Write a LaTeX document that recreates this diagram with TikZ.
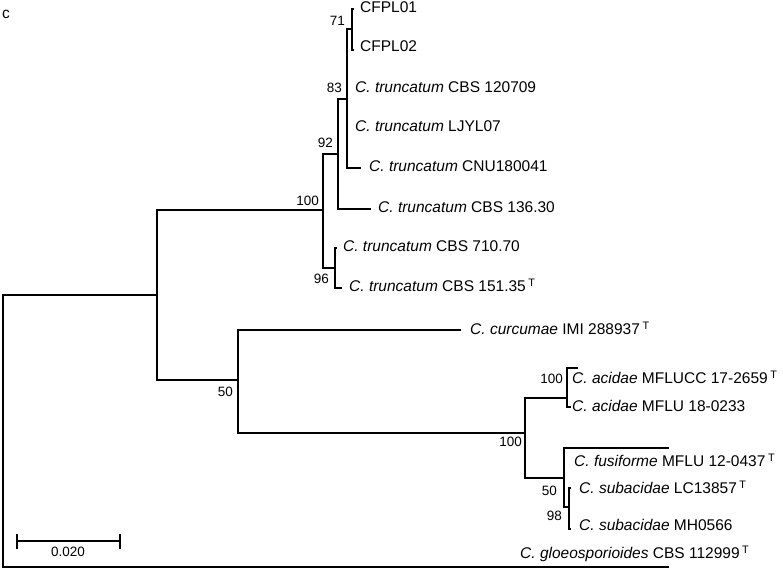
\documentclass[tikz,border=0pt]{standalone}
\usepackage{fontspec}
\setmainfont{Liberation Sans}
\usetikzlibrary{arrows.meta}
\newcommand{\typemark}{\,\textsuperscript{T}}
\newcommand{\ctrunc}{\textit{C. truncatum}}

\begin{document}
\begin{tikzpicture}[x=1pt,y=-1pt,
  branch/.style={draw=black,line width=1.6pt,line cap=rect},
  taxon/.style={font=\fontsize{15.5}{18}\selectfont,anchor=west,
    inner sep=0pt,text height=0.72em,text depth=0pt},
  support/.style={font=\fontsize{13.5}{16}\selectfont,anchor=east,
    inner sep=0pt,text height=0.72em,text depth=0pt},
  scalebar/.style={branch,line cap=butt,{Bar[width=15pt]}-{Bar[width=15pt]}}]
\useasboundingbox (0,0) rectangle (783,570);

\node[font=\fontsize{15.5}{18}\selectfont,anchor=base west,inner sep=0pt] (panel) at (2,18) {c};

% internal nodes
\coordinate (root) at (3,431);
\coordinate (n1) at (157,295);
\coordinate (n100a) at (323,210);
\coordinate (n92) at (338,154);
\coordinate (n83) at (347,99);
\coordinate (n71) at (352,29);
\coordinate (n96) at (335,268);
\coordinate (n50a) at (238,380);
\coordinate (n100b) at (525,433);
\coordinate (n100c) at (567,398);
\coordinate (n50b) at (564,478);
\coordinate (n98) at (569,507);

% tips
\coordinate (t_cfpl01) at (353,9);
\coordinate (t_cfpl02) at (353,50);
\coordinate (t_120709) at (347,89);
\coordinate (t_ljyl07) at (347,128);
\coordinate (t_cnu) at (360,168);
\coordinate (t_13630) at (370,209);
\coordinate (t_71070) at (336,248);
\coordinate (t_15135) at (341,288);
\coordinate (t_curcumae) at (460,330);
\coordinate (t_acidae1) at (577,368);
\coordinate (t_acidae2) at (570,407);
\coordinate (t_fusiforme) at (668,448);
\coordinate (t_subacidae1) at (570,488);
\coordinate (t_subacidae2) at (570,529);
\coordinate (t_gloeo) at (668,567);

\draw[branch] (root) |- (n1);
\draw[branch] (root) |- (t_gloeo);
\draw[branch] (n1) |- (n100a);
\draw[branch] (n1) |- (n50a);
\draw[branch] (n100a) |- (n92);
\draw[branch] (n100a) |- (n96);
\draw[branch] (n92) |- (n83);
\draw[branch] (n92) |- (t_13630);
\draw[branch] (n83) |- (n71);
\draw[branch] (n83) |- (t_120709);
\draw[branch] (n83) |- (t_ljyl07);
\draw[branch] (n83) |- (t_cnu);
\draw[branch] (n71) |- (t_cfpl01);
\draw[branch] (n71) |- (t_cfpl02);
\draw[branch] (n96) |- (t_71070);
\draw[branch] (n96) |- (t_15135);
\draw[branch] (n50a) |- (t_curcumae);
\draw[branch] (n50a) |- (n100b);
\draw[branch] (n100b) |- (n100c);
\draw[branch] (n100b) |- (n50b);
\draw[branch] (n100c) |- (t_acidae1);
\draw[branch] (n100c) |- (t_acidae2);
\draw[branch] (n50b) |- (t_fusiforme);
\draw[branch] (n50b) |- (n98);
\draw[branch] (n98) |- (t_subacidae1);
\draw[branch] (n98) |- (t_subacidae2);

\node[taxon] (cfpl01) at (360,9) {CFPL01};
\node[taxon] (cfpl02) at (360,48) {CFPL02};
\node[taxon] (cbs120709) at (355,89) {\ctrunc{} CBS 120709};
\node[taxon] (ljyl07) at (355,128) {\ctrunc{} LJYL07};
\node[taxon] (cnu180041) at (369,168) {\ctrunc{} CNU180041};
\node[taxon] (cbs13630) at (378,209) {\ctrunc{} CBS 136.30};
\node[taxon] (cbs71070) at (343,248) {\ctrunc{} CBS 710.70};
\node[taxon] (cbs15135) at (349,288) {\ctrunc{} CBS 151.35\typemark};
\node[taxon] (curcumae) at (470,331) {\textit{C. curcumae} IMI 288937\typemark};
\node[taxon] (acidae1) at (572,380) {\textit{C. acidae} MFLUCC 17-2659\typemark};
\node[taxon] (acidae2) at (572,408) {\textit{C. acidae} MFLU 18-0233};
\node[taxon] (fusiforme) at (574,463) {\textit{C. fusiforme} MFLU 12-0437\typemark};
\node[taxon] (subacidae1) at (579,490) {\textit{C. subacidae} LC13857\typemark};
\node[taxon] (subacidae2) at (579,527) {\textit{C. subacidae} MH0566};
\node[taxon] (gloeo) at (520,555) {\textit{C. gloeosporioides} CBS 112999\typemark};

\node[support] (bs71) at (345,22) {71};
\node[support] (bs83) at (342,89) {83};
\node[support] (bs92) at (333,144) {92};
\node[support] (bs100a) at (319,202) {100};
\node[support] (bs96) at (329,280) {96};
\node[support] (bs50a) at (233,393) {50};
\node[support] (bs100b) at (522,443) {100};
\node[support] (bs100c) at (563,380) {100};
\node[support] (bs50b) at (557,492) {50};
\node[support] (bs98) at (562,517) {98};

\coordinate (sb_left) at (16,541);
\coordinate (sb_right) at (121,541);
\draw[scalebar] (sb_left) -- (sb_right);
\node[support,anchor=center] (sb_label) at (68,553) {0.020};
\end{tikzpicture}
\end{document}
